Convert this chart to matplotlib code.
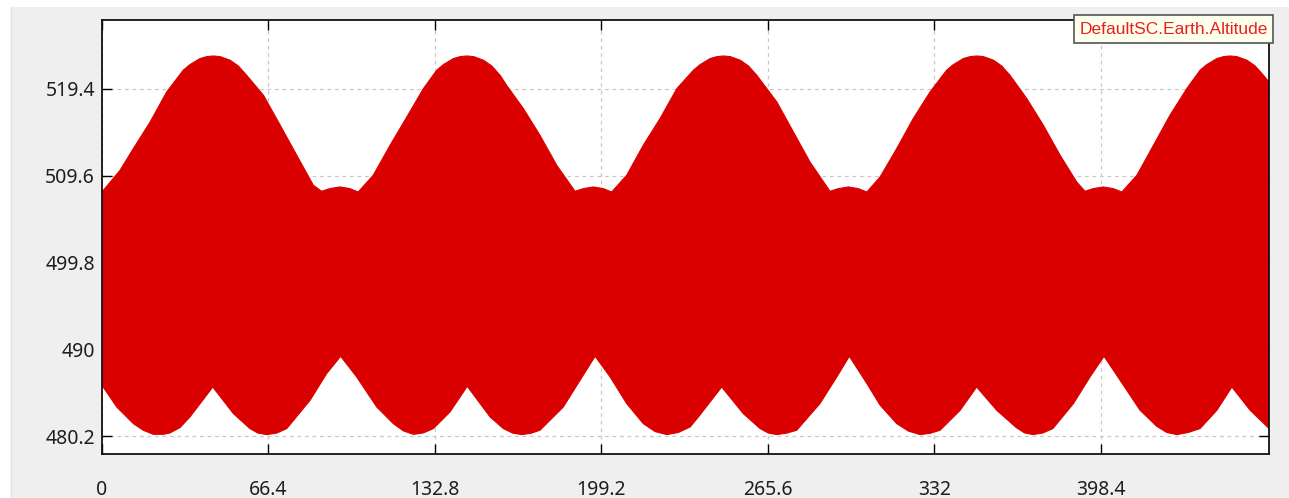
import numpy as np
import matplotlib
matplotlib.use('Agg')
import matplotlib.pyplot as plt
from matplotlib.patches import Rectangle

## upper edge of the altitude trace (time, km)
upper_t = [0, 7.2, 12.5, 19.2, 25.8,
           32.4, 35.1, 39.1, 41.8, 44.4, 47.1, 51.1, 54.4, 57.7,
           64.4, 71.1, 77.7, 84.3, 87.6, 90.9, 94.9, 98.9, 102.2,
           108.2, 114.9, 121.6, 128.2,
           133.5, 136.2, 140.2, 142.9, 145.5, 148.2, 152.2, 155.5, 158.8,
           161.4, 168.1, 174.7, 181.4, 188.7, 192.0, 196.0, 200.0, 203.3,
           209.3, 215.9, 222.6, 229.3,
           235.9, 238.6, 242.6, 245.3, 247.9, 250.6, 254.6, 257.9, 261.2,
           269.2, 275.8, 282.4, 290.4, 293.7, 297.7, 301.7, 305.1,
           310.4, 317.0, 323.6, 330.3,
           336.9, 339.6, 343.6, 346.3, 348.9, 351.6, 355.6, 358.9, 362.2,
           368.9, 375.5, 382.2, 388.8, 392.1, 395.4, 399.4, 403.4, 406.8,
           412.8, 419.4, 426.0, 432.7,
           438.0, 440.7, 444.7, 447.4, 450.0, 452.7, 456.7, 460.0, 463.3, 465.5]
upper_alt = [507.74, 510.19, 512.64, 515.64, 519.03,
             521.48, 522.12, 522.80, 523.02, 523.09, 523.02, 522.61, 521.96, 520.91,
             518.66, 515.27, 511.88, 508.50, 507.82, 508.12, 508.31, 508.12, 507.74,
             509.63, 513.01, 516.21, 519.41,
             521.48, 522.12, 522.80, 523.02, 523.09, 523.02, 522.61, 521.96, 520.91,
             519.78, 517.15, 514.14, 510.75, 507.82, 508.12, 508.31, 508.12, 507.74,
             509.63, 513.01, 516.03, 519.41,
             521.48, 522.12, 522.80, 523.02, 523.09, 523.02, 522.61, 521.96, 520.91,
             517.90, 514.51, 511.13, 507.82, 508.12, 508.31, 508.12, 507.74,
             509.45, 512.64, 516.03, 519.03,
             521.48, 522.12, 522.80, 523.02, 523.09, 523.02, 522.61, 521.96, 520.91,
             518.28, 515.27, 511.88, 508.87, 507.82, 508.12, 508.31, 508.12, 507.74,
             509.63, 513.01, 516.40, 519.41,
             521.48, 522.12, 522.80, 523.02, 523.09, 523.02, 522.61, 521.96, 520.91, 520.15]

## lower edge of the altitude trace
lower_t = [0, 5.9, 12.5, 16.5, 20.5, 24.5, 27.1, 31.1, 35.1, 44.2,
           52.4, 59.0, 62.2, 65.7, 69.7, 73.7, 83.0, 89.6, 95.2,
           101.6, 109.6, 116.2, 120.2, 124.2, 128.2, 132.2, 138.8, 145.7,
           154.8, 160.1, 163.8, 167.4, 171.0, 174.7, 184.0, 190.7, 196.7,
           202.7, 209.3, 215.9, 220.6, 225.3, 229.9, 234.6, 237.9, 247.2,
           255.8, 262.5, 265.8, 269.2, 273.2, 277.1, 286.4, 293.1, 298.1,
           305.1, 310.4, 317.0, 321.7, 326.3, 330.3, 334.3, 342.3, 348.9,
           356.9, 364.7, 368.0, 371.4, 375.4, 379.3, 387.5, 394.1, 399.7,
           406.1, 414.1, 420.7, 424.7, 428.7, 433.3, 438.0, 444.7, 450.7,
           458.0, 465.5]
lower_alt = [485.92, 483.47, 481.60, 480.84, 480.39, 480.39, 480.54, 481.15, 482.35, 485.73,
             482.73, 481.04, 480.53, 480.36, 480.53, 481.04, 484.23, 487.24, 489.20,
             486.86, 483.47, 481.60, 480.78, 480.39, 480.55, 481.04, 482.91, 485.81,
             482.35, 481.04, 480.53, 480.36, 480.50, 480.85, 483.47, 486.49, 489.20,
             486.86, 483.86, 481.60, 480.70, 480.36, 480.60, 481.22, 482.35, 485.73,
             482.73, 481.04, 480.53, 480.36, 480.53, 480.85, 483.86, 486.86, 489.20,
             486.12, 483.67, 481.60, 480.75, 480.36, 480.50, 480.85, 483.10, 485.73,
             483.10, 481.15, 480.55, 480.36, 480.55, 481.04, 483.86, 486.86, 489.20,
             486.49, 483.10, 481.30, 480.60, 480.36, 480.60, 481.04, 483.10, 485.73,
             483.10, 481.05]

xticks = [0, 66.4, 132.8, 199.2, 265.6, 332, 398.4]
xlabels = ['0', '66.4', '132.8', '199.2', '265.6', '332', '398.4']
yticks = [480.2, 490, 499.8, 509.6, 519.4]
ylabels = ['480.2', '490', '499.8', '509.6', '519.4']
series_name = 'DefaultSC.Earth.Altitude'

W, H = 1289, 498
fig = plt.figure(figsize=(W / 100, H / 100), dpi=100, facecolor='white')

## gray panel behind the plot
fig.patches.append(Rectangle((11 / W, 0), 1, (H - 7) / H, transform=fig.transFigure,
                             facecolor='#efefef', edgecolor='none', zorder=-10))
fig.lines.append(plt.Line2D([11 / W, 11 / W], [0, (H - 7) / H], transform=fig.transFigure,
                            color='#dbe3ec', lw=1, zorder=-9))

ax = fig.add_axes([102 / W, 44 / H, 1167 / W, 434 / H])
ax.set_facecolor('white')

## the trace is so dense it fills the band between the two edges
xs = np.concatenate([upper_t, lower_t[::-1]])
ys = np.concatenate([upper_alt, lower_alt[::-1]])
ax.fill(xs, ys, color='#db0000', lw=0.8, ec='#db0000', zorder=2)

ax.set_xlim(0, 465.5)
ax.set_ylim(478.17, 527.15)
ax.set_xticks(xticks)
ax.set_xticklabels(xlabels)
ax.set_yticks(yticks)
ax.set_yticklabels(ylabels)
ax.grid(True, color='#c8c8c8', ls=(0, (3, 3)), lw=0.9, zorder=1)
ax.set_axisbelow(True)
ax.tick_params(direction='in', length=7.5, width=1, top=True, right=True,
               labelsize=14, labelcolor='#1e1e1e')
ax.tick_params(axis='x', pad=19)
ax.tick_params(axis='y', pad=5)
for lab in ax.get_xticklabels() + ax.get_yticklabels():
    lab.set_fontfamily('Noto Sans')
for s in ax.spines.values():
    s.set_color('#111111')
    s.set_linewidth(1.3)
    s.set_zorder(3)

## legend box top right
fig.patches.append(Rectangle((1074 / W, (H - 43) / H), 199 / W, 28 / H, transform=fig.transFigure,
                             facecolor='#ffffee', edgecolor='#555555', lw=1.2, zorder=5))
fig.text(1174 / W, (H - 29) / H, series_name, color='#e8201c', fontsize=12.5,
         family='Liberation Sans', ha='center', va='center', zorder=6)

fig.savefig('out.png', dpi=100)
